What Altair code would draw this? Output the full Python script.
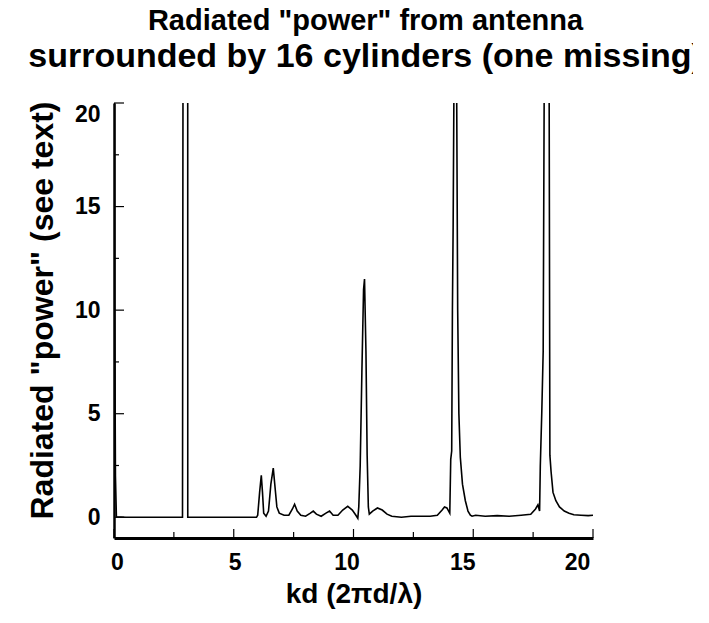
import altair as alt
import pandas as pd

# Curve (kd, radiated "power")
kd = [0.0, 0.03, 0.06, 0.1, 0.5, 1.0, 1.5, 2.0, 2.5, 2.86, 2.88, 2.9, 3.06, 3.08, 3.5, 4.0, 4.5, 5.0, 5.5, 5.95,
      6.0, 6.08, 6.15, 6.2, 6.25, 6.35, 6.45, 6.55, 6.65, 6.72, 6.8, 6.9, 7.1, 7.3, 7.45, 7.54, 7.65, 7.8,
      8.0, 8.2, 8.32, 8.45, 8.65, 8.85, 9.0, 9.15, 9.35, 9.55, 9.76, 9.95, 10.1, 10.18, 10.22, 10.28, 10.35,
      10.42, 10.46, 10.52, 10.57, 10.62, 10.66, 10.8, 11.0, 11.2, 11.4, 11.6, 12.0, 12.4, 12.8, 13.2, 13.5,
      13.7, 13.8, 13.9, 14.02, 14.06, 14.1, 14.13, 14.16, 14.19, 14.25, 14.31, 14.35, 14.4, 14.46, 14.55,
      14.67, 14.78, 14.88, 14.95, 15.1, 15.5, 16.0, 16.5, 17.0, 17.4, 17.6, 17.7, 17.77, 17.8, 17.86, 17.92,
      17.96, 18.05, 18.17, 18.2, 18.25, 18.33, 18.45, 18.6, 18.8, 19.0, 19.2, 19.5, 19.8, 20.0]
power = [40.0, 10.0, 2.0, 0.02, 0.0, 0.0, 0.0, 0.0, 0.0, 0.0, 20.0, 200.0, 200.0, 0.0, 0.0, 0.0, 0.0, 0.0, 0.0, 0.0,
         0.1, 1.2, 2.03, 1.2, 0.2, 0.05, 0.3, 1.6, 2.37, 1.5, 0.5, 0.2, 0.1, 0.1, 0.4, 0.63, 0.3, 0.1,
         0.05, 0.2, 0.3, 0.15, 0.05, 0.2, 0.3, 0.1, 0.1, 0.35, 0.53, 0.35, 0.1, -0.05, 0.5, 2.5, 7.0,
         11.0, 11.5, 8.0, 3.0, 0.5, 0.15, 0.3, 0.45, 0.35, 0.15, 0.05, 0.0, 0.05, 0.05, 0.05, 0.1,
         0.35, 0.5, 0.45, 0.2, 2.8, 3.2, 10.0, 14.0, 20.0, 50.0, 20.0, 10.0, 5.0, 2.9, 1.6,
         0.8, 0.3, 0.1, 0.05, 0.1, 0.05, 0.08, 0.05, 0.1, 0.15, 0.4, 0.6, 0.3, 2.5, 5.0, 8.0,
         20.0, 45.0, 20.0, 3.0, 2.2, 1.2, 0.8, 0.5, 0.3, 0.2, 0.12, 0.1, 0.08, 0.1]

x_major = [0, 5, 10, 15, 20]
x_minor = [2.5, 7.5, 12.5, 17.5]
y_major = [0, 5, 10, 15, 20]
y_minor = [2.5, 7.5, 12.5, 17.5]

W, H = 479, 435
FONT = "Liberation Sans"
XT = "kd (2πd/λ)"
YT = 'Radiated "power" (see text)'

xs = alt.Scale(domain=[0, 20], nice=False, zero=False)
ys = alt.Scale(domain=[-1, 20], nice=False, zero=False)

# x tick labels in the reference sit slightly left of their ticks
x_label_shift = {
    "condition": [
        {"test": "datum.value == 0", "value": 3},
        {"test": "datum.value == 5", "value": 1},
        {"test": "datum.value == 10", "value": -7},
        {"test": "datum.value == 15", "value": -11},
        {"test": "datum.value == 20", "value": -16},
    ],
    "value": 0,
}

xaxis = alt.Axis(values=x_major, ticks=False, grid=False, domainWidth=3, domainColor="black",
                 labelFontSize=23, labelPadding=13, titleFontSize=28, titlePadding=6,
                 labelFlush=False, labelOffset=x_label_shift,
                 labelFont=FONT, titleFont=FONT, labelFontWeight="bold", titleFontWeight="bold",
                 labelColor="black", titleColor="black")
yaxis = alt.Axis(values=y_major, ticks=False, grid=False, domainWidth=2.5, domainColor="black",
                 labelFontSize=23, labelPadding=14, labelFlush=True, titleFontSize=32,
                 labelFont=FONT, titleFont=FONT, labelFontWeight="bold", titleFontWeight="bold",
                 labelColor="black", titleColor="black", titleX=-55, titleY=207,
                 titleAlign="center", titleBaseline="bottom", titleAngle=270)

df = pd.DataFrame({"kd": kd, "power": power})

line = alt.Chart(df).mark_line(color="black", strokeWidth=1.6, clip=True).encode(
    x=alt.X("kd:Q", scale=xs, title=XT, axis=xaxis),
    y=alt.Y("power:Q", scale=ys, title=YT, axis=yaxis),
    order="kd:Q",
)

def xticks(vals, length):
    return alt.Chart(pd.DataFrame({"kd": vals})).mark_rule(color="black", strokeWidth=1.2).encode(
        x=alt.X("kd:Q", scale=xs, title=XT, axis=xaxis), y=alt.value(H), y2=alt.value(H - length))

def yticks(vals, length):
    return alt.Chart(pd.DataFrame({"power": vals})).mark_rule(color="black", strokeWidth=1.2).encode(
        y=alt.Y("power:Q", scale=ys, title=YT, axis=yaxis), x=alt.value(0), x2=alt.value(length))

chart = alt.layer(
    line,
    xticks(x_major, 9), xticks(x_minor, 6),
    yticks(y_major, 10), yticks(y_minor, 5),
).properties(
    width=W, height=H,
    title=alt.Title(text='Radiated "power" from antenna',
                    subtitle="surrounded by 16 cylinders (one missing)"),
    padding={"left": 106, "top": 95, "right": 100, "bottom": 76},
    autosize=alt.AutoSizeParams(type="none"),
).configure_view(stroke=None).configure_title(
    font=FONT, fontSize=29, fontWeight="bold", color="black",
    subtitleFont=FONT, subtitleFontSize=34, subtitleFontWeight="bold", subtitleColor="black",
    subtitlePadding=4, anchor="middle", offset=27, dx=12,
)

chart.save("out.html", embed_options={"renderer": "svg", "actions": False})
